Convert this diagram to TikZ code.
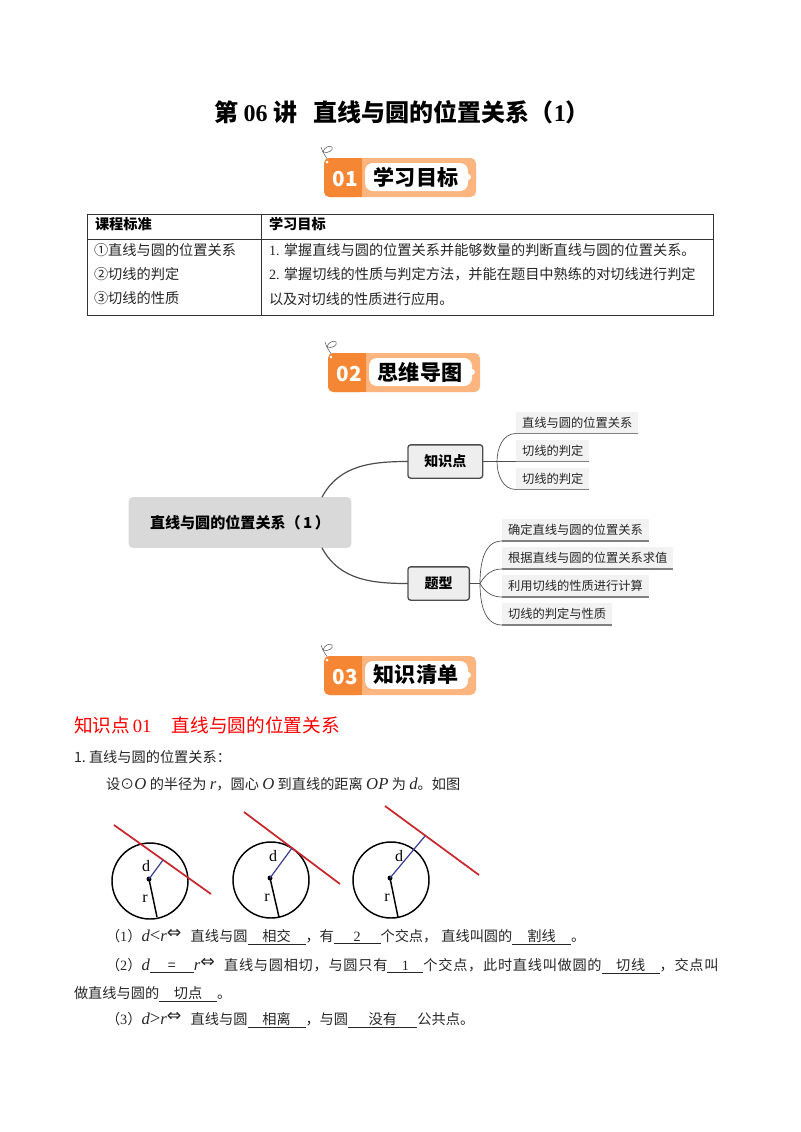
\documentclass[tikz,border=0pt]{standalone}
\usepackage{fontspec}
\setmainfont{Noto Sans CJK SC}
\newfontfamily\latinfont{Liberation Serif}
\newfontfamily\symbfont{DejaVu Sans}
\usetikzlibrary{positioning}
\definecolor{ribbondark}{HTML}{F58634}
\definecolor{ribbonlight}{HTML}{FDB57F}
\definecolor{rootgray}{HTML}{D9D9D9}
\definecolor{boxgray}{HTML}{EEEEEE}
\definecolor{leafgray}{HTML}{F2F2F2}
\definecolor{edgegray}{HTML}{4D4D4D}
\definecolor{redline}{HTML}{C8282D}
\definecolor{blueline}{HTML}{3C3C96}
\newcommand{\lat}[1]{{\latinfont #1}}
\newcommand{\vb}[1]{{\latinfont\itshape\fontsize{12.5}{12}\selectfont #1}}
\newcommand{\cmpmark}[1]{{\latinfont\fontsize{14}{12}\selectfont #1}}
\newcommand{\fillin}[2]{\underline{\makebox[#1]{#2}}}
\newcommand{\equivmark}{\raisebox{2.5pt}{\symbfont\fontsize{13}{10}\selectfont⇔}\hspace{7pt}}
\newcommand{\ribbon}[5]{
	\begin{scope}[shift={(#2,#3)}]
		\draw[curl] (-3,-11) .. controls (-1,-4) and (3,0) .. (4,2);
		\draw[curl] (-1,-6) .. controls (4,-4) and (10,-8) .. (8,-11) .. controls (6,-13) and (0,-11) .. (-1,-6);
		\fill[ribbonlight, rounded corners=4pt] (0,0) rectangle (152,39);
		\fill[ribbondark, rounded corners=4pt] (0,0) rectangle (38,39);
		\fill[ribbondark] (30,0) rectangle (38,39);
		\fill[white, rounded corners=6pt] (41,5) rectangle (144,33);
		\fill[white] (144,19) circle (3);
		\fill[white] (3,4) circle (1.5);
		\node[ribbonnum] (#1num) at (21,21) {#4};
		\node[ribbonlab] (#1lab) at (92,19) {#5};
	\end{scope}
}
\newcommand{\ringfig}[9]{
	\draw[ring] (#2,#3) circle (38);
	\draw[redstroke] (#4,#5) -- (#6,#7);
	\coordinate (#1c) at (#2,#3);
	\fill (#1c) ++(-1,-2) circle (2.5);
	\draw[bluestroke] (#1c) ++(-1,-2) -- (#8,#9);
}
\tikzset{
	every node/.style={inner sep=0pt, outer sep=0pt},
	titletext/.style={font=\fontsize{18}{18}\selectfont\bfseries},
	headtext/.style={anchor=west, font=\fontsize{10.65}{12}\selectfont\bfseries},
	celltext/.style={anchor=west, font=\fontsize{10.65}{12}\selectfont, text=black!85},
	bodytext/.style={anchor=west, font=\fontsize{10.65}{12}\selectfont, text=black!85},
	redtext/.style={anchor=west, font=\fontsize{14}{16}\selectfont, text=red},
	ribbonnum/.style={font=\fontsize{15.5}{16}\selectfont\bfseries, text=white},
	ribbonlab/.style={font=\fontsize{15.8}{16}\selectfont\bfseries},
	curl/.style={draw=black!65, line width=0.4pt},
	gridline/.style={draw=black!80, line width=0.7pt},
	root/.style={fill=rootgray, rounded corners=3pt, minimum width=167pt, minimum height=38pt, font=\fontsize{11.3}{12}\selectfont\bfseries},
	branch/.style={draw=edgegray, fill=boxgray, line width=1pt, rounded corners=2pt, minimum height=25pt, font=\fontsize{10.5}{12}\selectfont\bfseries},
	leaf/.style={fill=leafgray, anchor=west, inner xsep=4.5pt, minimum height=16.5pt, font=\fontsize{9.2}{11}\selectfont, text=black!85},
	thickedge/.style={draw=edgegray, line width=0.9pt},
	thinedge/.style={draw=edgegray, line width=0.5pt},
	leafline/.style={draw=gray, line width=0.9pt},
	ring/.style={draw=black, line width=1.1pt},
	redstroke/.style={draw=redline, line width=1.3pt},
	bluestroke/.style={draw=blueline, line width=0.9pt},
	radstroke/.style={draw=black, line width=1.1pt},
	figlabel/.style={font=\latinfont\fontsize{12}{12}\selectfont}
}
\begin{document}
\begin{tikzpicture}[x=0.75pt, y=-0.75pt]
	\useasboundingbox[fill=white] (0,0) rectangle (800,1132);
	\node[titletext] (title) at (402,112) {第 \lat{06} 讲\hspace{0.7em}直线与圆的位置关系（\lat{1}）};
	\ribbon{ra}{324}{158}{01}{学习目标}
	\draw[gridline] (87,214) rectangle (713,315);
	\draw[gridline] (87,239) -- (713,239);
	\draw[gridline] (261,214) -- (261,315);
	\node[headtext] (ha) at (95,224) {课程标准};
	\node[headtext] (hb) at (269,224) {学习目标};
	\node[celltext] (sa) at (94,250) {①直线与圆的位置关系};
	\node[celltext] (sb) at (94,274) {②切线的判定};
	\node[celltext] (sc) at (94,298) {③切线的性质};
	\node[celltext] (ga) at (269,250) {\lat{1.} 掌握直线与圆的位置关系并能够数量的判断直线与圆的位置关系。};
	\node[celltext] (gb) at (269,274) {\lat{2.} 掌握切线的性质与判定方法，并能在题目中熟练的对切线进行判定};
	\node[celltext] (gc) at (269,299) {以及对切线的性质进行应用。};
	\ribbon{rb}{328}{353}{02}{思维导图}
	\node[root] (main) at (240,522.5) {直线与圆的位置关系（\,1\,）};
	\node[branch, minimum width=56pt, anchor=west] (know) at (408,461.5) {知识点};
	\node[branch, minimum width=46pt, anchor=west] (kind) at (408,583.5) {题型};
	\node[leaf] (ka) at (516,422.5) {直线与圆的位置关系};
	\node[leaf, below=4.5pt of ka.south west, anchor=north west] (kb) {切线的判定};
	\node[leaf, below=4.5pt of kb.south west, anchor=north west] (kc) {切线的判定};
	\node[leaf] (ta) at (502,530) {确定直线与圆的位置关系};
	\node[leaf, below=4.5pt of ta.south west, anchor=north west] (tb) {根据直线与圆的位置关系求值};
	\node[leaf, below=4.5pt of tb.south west, anchor=north west] (tc) {利用切线的性质进行计算};
	\node[leaf, below=4.5pt of tc.south west, anchor=north west] (td) {切线的判定与性质};
	\draw[thickedge] ([xshift=-22pt]main.north east) to[out=62, in=180] (know.west);
	\draw[thickedge] ([xshift=-22pt]main.south east) to[out=-62, in=180] (kind.west);
	\coordinate (kjoin) at (497,461.5);
	\coordinate (tjoin) at (480,583.5);
	\draw[thinedge] (know.east) -- (kjoin);
	\draw[thinedge] (kind.east) -- (tjoin);
	\draw[thinedge] (kjoin) to[out=90, in=180] (ka.south west);
	\draw[thinedge] (kjoin) -- (kb.south west);
	\draw[thinedge] (kjoin) to[out=-90, in=180] (kc.south west);
	\draw[thinedge] (tjoin) to[out=90, in=180] (ta.south west);
	\draw[thinedge] (tjoin) to[out=60, in=180] (tb.south west);
	\draw[thinedge] (tjoin) to[out=-60, in=180] (tc.south west);
	\draw[thinedge] (tjoin) to[out=-90, in=180] (td.south west);
	\foreach \n in {ka,kb,kc,ta,tb,tc,td}
		\draw[leafline] (\n.south west) -- (\n.south east);
	\ribbon{rc}{324}{656}{03}{知识清单}
	\node[redtext] (topic) at (74,725) {知识点\hspace{0.15em}\lat{01}\hspace{1.1em}直线与圆的位置关系};
	\node[bodytext] (la) at (74,757) {1.\ 直线与圆的位置关系：};
	\node[bodytext] (lb) at (106,784) {设⊙\vb{O}\hspace{2.5pt}的半径为\hspace{2.5pt}\vb{r}，圆心\hspace{2.5pt}\vb{O}\hspace{2.5pt}到直线的距离\hspace{2.5pt}\vb{OP}\hspace{2.5pt}为\hspace{2.5pt}\vb{d}。如图};
	\ringfig{ca}{150}{881}{114}{825}{211}{894}{163}{860}
	\draw[radstroke] (cac) ++(-1,-2) -- (157,917);
	\node[figlabel] (da) at (146,866) {d};
	\node[figlabel] (ra) at (145,899) {r};
	\ringfig{cb}{271}{880}{244}{812}{340}{884}{292}{848}
	\draw[radstroke] (cbc) ++(-1,-2) -- (279,917);
	\node[figlabel] (db) at (273,856) {d};
	\node[figlabel] (rb) at (267,898) {r};
	\ringfig{cc}{391}{880}{385}{806}{479}{875}{425}{836}
	\draw[radstroke] (ccc) ++(-1,-2) -- (398,917);
	\node[figlabel] (dc) at (399,856) {d};
	\node[figlabel] (rc) at (387,898) {r};
	\node[bodytext] (pa) at (106,937) {（\lat{1}）\vb{d}\cmpmark{<}\vb{r}\equivmark 直线与圆\fillin{43.5pt}{相交}，有\fillin{35pt}{\lat{2}}个交点，\hspace{3pt}直线叫圆的\fillin{44pt}{割线}。};
	\node[bodytext] (pb) at (106,966) {\addfontfeature{LetterSpace=5}（\lat{2}）\vb{d}\fillin{33pt}{=}\vb{r}\equivmark 直线与圆相切，与圆只有\fillin{27pt}{\lat{1}}个交点，此时直线叫做圆的\fillin{43.5pt}{切线}，交点叫};
	\node[bodytext] (pc) at (74,994) {做直线与圆的\fillin{43.5pt}{切点}。};
	\node[bodytext] (pd) at (106,1020) {（\lat{3}）\vb{d}\cmpmark{>}\vb{r}\equivmark 直线与圆\fillin{43.5pt}{相离}，与圆\fillin{52pt}{没有}公共点。};
\end{tikzpicture}
\end{document}
